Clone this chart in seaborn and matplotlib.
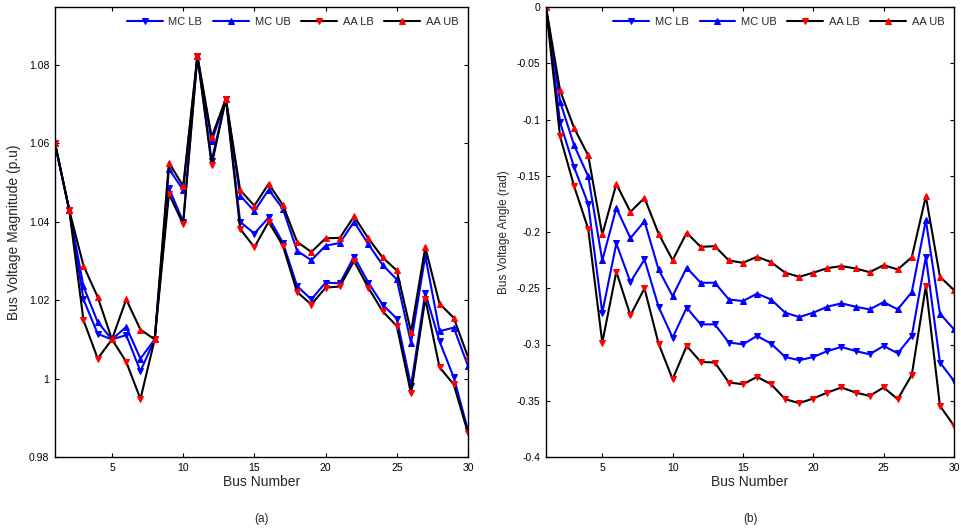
import numpy as np
import pandas as pd
import matplotlib
matplotlib.use("Agg")
import matplotlib.pyplot as plt
import seaborn as sns
from matplotlib.ticker import FuncFormatter

bus = list(range(1, 31))

# (a) Bus voltage magnitude (p.u)
vm_mc_lb = [1.060, 1.043, 1.0202, 1.0114, 1.0100, 1.0111, 1.0019, 1.0100, 1.0486, 1.0400,
            1.0823, 1.0556, 1.0714, 1.0400, 1.0370, 1.0411, 1.0347, 1.0236, 1.0202, 1.0245,
            1.0243, 1.0311, 1.0245, 1.0189, 1.0153, 0.9982, 1.0219, 1.0095, 1.0003, 0.9868]
vm_mc_ub = [1.060, 1.043, 1.0235, 1.0144, 1.0100, 1.0132, 1.0051, 1.0100, 1.0535, 1.0481,
            1.0823, 1.0605, 1.0714, 1.0467, 1.0427, 1.0482, 1.0433, 1.0326, 1.0302, 1.0339,
            1.0346, 1.0400, 1.0343, 1.0290, 1.0253, 1.0091, 1.0313, 1.0121, 1.0130, 1.0032]
vm_aa_lb = [1.060, 1.043, 1.0149, 1.0051, 1.0100, 1.0043, 0.9948, 1.0100, 1.0471, 1.0394,
            1.0823, 1.0545, 1.0714, 1.0382, 1.0335, 1.0400, 1.0339, 1.0221, 1.0189, 1.0232,
            1.0235, 1.0300, 1.0232, 1.0172, 1.0134, 0.9962, 1.0204, 1.0029, 0.9985, 0.9861]
vm_aa_ub = [1.060, 1.043, 1.0288, 1.0208, 1.0100, 1.0202, 1.0125, 1.0100, 1.0551, 1.0491,
            1.0823, 1.0616, 1.0714, 1.0481, 1.0441, 1.0497, 1.0443, 1.0349, 1.0323, 1.0358,
            1.0359, 1.0414, 1.0358, 1.0309, 1.0276, 1.0119, 1.0335, 1.0191, 1.0155, 1.0055]

# (b) Bus voltage angle (rad)
va_mc_lb = [0.0, -0.1026, -0.1425, -0.1750, -0.2717, -0.2102, -0.2445, -0.2244, -0.2664, -0.2939,
            -0.2673, -0.2821, -0.2821, -0.2983, -0.2998, -0.2924, -0.2992, -0.3111, -0.3140, -0.3111,
            -0.3058, -0.3022, -0.3058, -0.3087, -0.3013, -0.3078, -0.2924, -0.2220, -0.3160, -0.3323]
va_mc_ub = [0.0, -0.0840, -0.1230, -0.1505, -0.2253, -0.1786, -0.2055, -0.1904, -0.2333, -0.2570,
            -0.2318, -0.2451, -0.2451, -0.2600, -0.2614, -0.2548, -0.2600, -0.2717, -0.2756, -0.2717,
            -0.2664, -0.2634, -0.2664, -0.2688, -0.2623, -0.2688, -0.2534, -0.1895, -0.2726, -0.2865]
va_aa_lb = [0.0, -0.1150, -0.1594, -0.1972, -0.2983, -0.2353, -0.2741, -0.2501, -0.2992, -0.3309,
            -0.3013, -0.3155, -0.3160, -0.3338, -0.3353, -0.3288, -0.3353, -0.3486, -0.3521, -0.3480,
            -0.3427, -0.3382, -0.3427, -0.3457, -0.3382, -0.3486, -0.3270, -0.2481, -0.3545, -0.3722]
va_aa_ub = [0.0, -0.0742, -0.1076, -0.1319, -0.2022, -0.1573, -0.1821, -0.1697, -0.2014, -0.2250,
            -0.2007, -0.2132, -0.2126, -0.2253, -0.2274, -0.2220, -0.2268, -0.2362, -0.2398, -0.2362,
            -0.2321, -0.2303, -0.2324, -0.2357, -0.2295, -0.2333, -0.2224, -0.1683, -0.2398, -0.2516]

series_names = ["MC LB", "MC UB", "AA LB", "AA UB"]
line_colors = ["#0000ff", "#0000ff", "#000000", "#000000"]
marker_colors = ["#0000ff", "#0000ff", "#ff0000", "#ff0000"]
markers = ["v", "^", "v", "^"]

sns.set_style("ticks")
plt.rcParams["font.family"] = ["Liberation Sans", "DejaVu Sans"]

fig = plt.figure(figsize=(9.61, 5.30), dpi=100)
W, H = 961, 530
def ax_rect(x0, y0, x1, y1):
    return [x0 / W, 1 - y1 / H, (x1 - x0) / W, (y1 - y0) / H]

axL = fig.add_axes(ax_rect(55, 7, 468, 457))
axR = fig.add_axes(ax_rect(546, 7, 954, 457))

def draw(ax, data_list):
    for name, vals, lc, mc, mk in zip(series_names, data_list, line_colors, marker_colors, markers):
        df = pd.DataFrame({"bus": bus, "val": vals})
        sns.lineplot(data=df, x="bus", y="val", ax=ax, color=lc, linewidth=1.5,
                     marker=mk, markersize=5, markerfacecolor=mc, markeredgecolor=mc,
                     label=name, errorbar=None)

draw(axL, [vm_mc_lb, vm_mc_ub, vm_aa_lb, vm_aa_ub])
draw(axR, [va_mc_lb, va_mc_ub, va_aa_lb, va_aa_ub])

fmt = FuncFormatter(lambda v, p: "%g" % round(v, 4))
for ax in (axL, axR):
    ax.set_xlim(1, 30)
    ax.set_xticks([5, 10, 15, 20, 25, 30])
    ax.tick_params(direction="in", top=True, right=True, length=3, width=0.8,
                   labelsize=7.5, colors="#000000", pad=4)
    for sp in ax.spines.values():
        sp.set_visible(True)
        sp.set_linewidth(1.0)
        sp.set_color("#000000")
    ax.yaxis.set_major_formatter(fmt)
    ax.set_xlabel("Bus Number", fontsize=10, labelpad=2)
    ax.legend(ncol=4, loc="upper right", bbox_to_anchor=(0.995, 0.995), frameon=False,
              fontsize=8, handlelength=3.2, columnspacing=1.0, handletextpad=0.5,
              borderaxespad=0.3)

axL.set_ylim(0.98, 1.0948)
axL.set_yticks([0.98, 1.0, 1.02, 1.04, 1.06, 1.08])
axL.set_ylabel("Bus Voltage Magnitude (p.u)", fontsize=10, labelpad=6)

axR.set_ylim(-0.4, 0)
axR.set_yticks([-0.4, -0.35, -0.3, -0.25, -0.2, -0.15, -0.1, -0.05, 0])
axR.set_ylabel("Bus Voltage Angle (rad)", fontsize=8.5, labelpad=5)

fig.text(261.5 / W, 1 - 519 / H, "(a)", ha="center", va="center", fontsize=8.5)
fig.text(750 / W, 1 - 519 / H, "(b)", ha="center", va="center", fontsize=8.5)

fig.savefig("out.png", dpi=100)
